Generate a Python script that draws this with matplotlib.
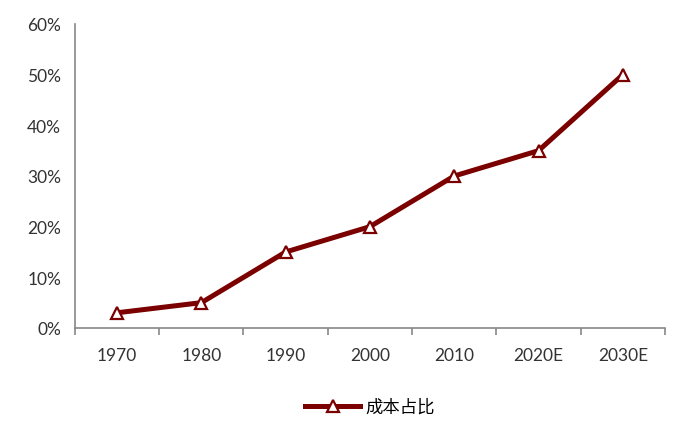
import matplotlib.pyplot as plt
from matplotlib.ticker import FuncFormatter

plt.rcParams['font.family'] = ['Lato', 'Noto Sans CJK SC', 'DejaVu Sans']

years = ['1970', '1980', '1990', '2000', '2010', '2020E', '2030E']
share = [3, 5, 15, 20, 30, 35, 50]
series_name = '成本占比'

color = '#7B0000'

fig = plt.figure(figsize=(7, 4.39), dpi=100)
ax = fig.add_axes([0.107, 0.2506, 0.843, 0.6925])

x = list(range(len(years)))
ax.plot(x, share, color=color, linewidth=3.6, marker='^', markersize=9,
        markerfacecolor='white', markeredgecolor=color, markeredgewidth=1.6,
        label=series_name)

ax.set_xlim(-0.5, len(years) - 0.5)
ax.set_ylim(0, 60)
ax.set_yticks(range(0, 61, 10))
ax.yaxis.set_major_formatter(FuncFormatter(lambda v, p: f'{v:.0f}%'))

ax.set_xticks(x)
ax.set_xticklabels(years)
ax.set_xticks([i - 0.5 for i in range(len(years) + 1)], minor=True)
ax.tick_params(axis='x', which='major', length=0, pad=14)
ax.tick_params(axis='x', which='minor', length=5, color='#888888', width=1.2)
ax.tick_params(axis='y', length=0, pad=10)
ax.tick_params(labelsize=12.5, labelcolor='#333333')

for s in ['top', 'right']:
    ax.spines[s].set_visible(False)
for s in ['left', 'bottom']:
    ax.spines[s].set_color('#888888')
    ax.spines[s].set_linewidth(1.2)

ax.legend(loc='upper center', bbox_to_anchor=(0.5, -0.18), frameon=False,
          fontsize=12.5, handlelength=3.2, handletextpad=0.3)

fig.savefig('out.png', dpi=100)
